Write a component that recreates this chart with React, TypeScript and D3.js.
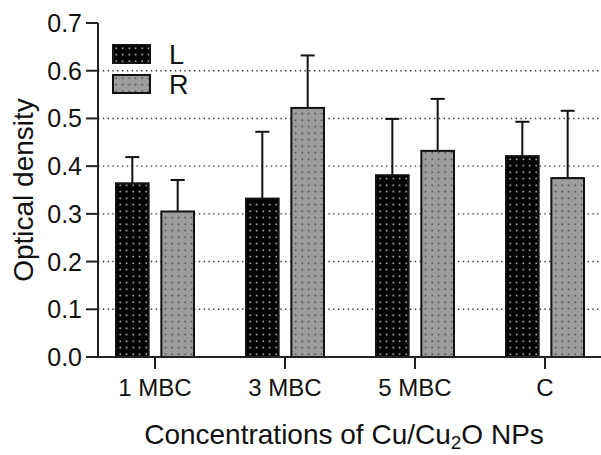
import React from 'react';
import * as d3 from 'd3';

const categories = ['1 MBC', '3 MBC', '5 MBC', 'C'];
const series = ['L', 'R'];
const meansL = [0.364, 0.332, 0.381, 0.421];
const meansR = [0.305, 0.522, 0.432, 0.375];
const errL = [0.055, 0.14, 0.118, 0.072];
const errR = [0.066, 0.11, 0.109, 0.141];
const yTicks = [0, 0.1, 0.2, 0.3, 0.4, 0.5, 0.6, 0.7];

const W = 601;
const H = 455;
const margin = { top: 23, right: 1, bottom: 98, left: 98 };
const font = 'Liberation Sans, Arial, sans-serif';

export default function App() {
  const y = d3.scaleLinear().domain([0, 0.7]).range([H - margin.bottom, margin.top]);
  const x0 = d3.scaleBand().domain(categories).range([90, 610]).padding(0);
  const x1 = d3.scaleBand().domain(series).range([-22 - 17, 22 + 17]).paddingInner(0.28);
  const baseY = y(0);

  const bars = categories.flatMap((c, i) =>
    series.map((s) => ({
      c,
      s,
      v: s === 'L' ? meansL[i] : meansR[i],
      e: s === 'L' ? errL[i] : errR[i],
    }))
  );

  return (
    <svg width={W} height={H} style={{ position: 'absolute', left: 0, top: 0 }} fontFamily={font}>
      <defs>
        <pattern id="patL" width="6.5" height="6.5" patternUnits="userSpaceOnUse">
          <rect width="6.5" height="6.5" fill="#000" />
          <rect x="2.5" y="2.5" width="1.4" height="1.4" fill="#fff" />
        </pattern>
        <pattern id="patR" width="6.5" height="6.5" patternUnits="userSpaceOnUse">
          <rect width="6.5" height="6.5" fill="#9d9d9d" />
          <rect x="2.5" y="2.5" width="1.4" height="1.4" fill="#333" />
        </pattern>
      </defs>
      <rect width={W} height={H} fill="#fff" />

      {/* grid */}
      {yTicks.slice(1, 7).map((t) => (
        <line key={t} x1={margin.left} x2={W} y1={y(t)} y2={y(t)} stroke="#333" strokeWidth={1.4} strokeDasharray="1.4,3.4" />
      ))}

      {/* error bars */}
      {bars.map((b) => {
        const cx = x0(b.c)! + x0.bandwidth() / 2 + x1(b.s)! + x1.bandwidth() / 2;
        return (
          <g key={'e' + b.c + b.s} stroke="#111" strokeWidth={2}>
            <line x1={cx} x2={cx} y1={y(b.v)} y2={y(b.v + b.e)} />
            <line x1={cx - 7} x2={cx + 7} y1={y(b.v + b.e)} y2={y(b.v + b.e)} />
          </g>
        );
      })}

      {/* bars */}
      {bars.map((b) => (
        <rect
          key={b.c + b.s}
          x={x0(b.c)! + x0.bandwidth() / 2 + x1(b.s)!}
          y={y(b.v)}
          width={x1.bandwidth()}
          height={baseY - y(b.v)}
          fill={b.s === 'L' ? 'url(#patL)' : 'url(#patR)'}
          stroke="#111"
          strokeWidth={2}
        />
      ))}

      {/* axes */}
      <line x1={margin.left} x2={margin.left} y1={y(0.7)} y2={baseY} stroke="#222" strokeWidth={2} />
      <line x1={margin.left} x2={W} y1={baseY} y2={baseY} stroke="#222" strokeWidth={2} />
      {yTicks.map((t) => (
        <g key={t}>
          <line x1={margin.left - 12} x2={margin.left} y1={y(t)} y2={y(t)} stroke="#222" strokeWidth={2} />
          <text x={margin.left - 16} y={y(t)} dy="0.36em" textAnchor="end" fontSize={25} fill="#111">
            {t.toFixed(1)}
          </text>
        </g>
      ))}
      {categories.map((c) => {
        const cx = x0(c)! + x0.bandwidth() / 2;
        return (
          <g key={c}>
            <line x1={cx} x2={cx} y1={baseY} y2={baseY + 12} stroke="#222" strokeWidth={2} />
            <text x={cx} y={baseY + 39} textAnchor="middle" fontSize={24} fill="#111">
              {c}
            </text>
          </g>
        );
      })}

      {/* titles */}
      <text transform={`translate(33,${(y(0.7) + baseY) / 2}) rotate(-90)`} textAnchor="middle" fontSize={28} fill="#111">
        Optical density
      </text>
      <text x={344} y={444} textAnchor="middle" fontSize={28} fill="#111">
        Concentrations of Cu/Cu<tspan fontSize={19} dy={5}>2</tspan><tspan dy={-5}>O NPs</tspan>
      </text>

      {/* legend */}
      {series.map((s, i) => (
        <g key={s} transform={`translate(113,${45 + i * 30})`}>
          <rect width={37} height={18} fill={s === 'L' ? 'url(#patL)' : 'url(#patR)'} stroke="#111" strokeWidth={2} />
          <text x={56} y={9} dy="0.36em" fontSize={27} fill="#111">
            {s}
          </text>
        </g>
      ))}
    </svg>
  );
}
